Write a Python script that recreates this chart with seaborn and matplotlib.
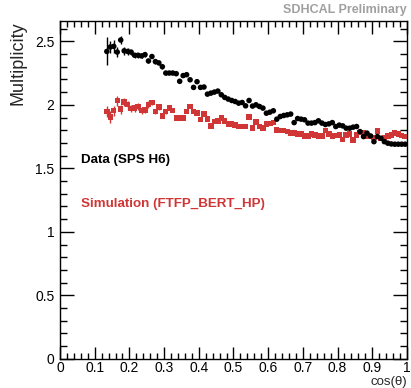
import numpy as np
import pandas as pd
import matplotlib
matplotlib.use("Agg")
import matplotlib.pyplot as plt
import seaborn as sns
from matplotlib.ticker import MultipleLocator

# bin centres in cos(theta)
cos_theta = [0.135, 0.145, 0.155, 0.165, 0.175, 0.185, 0.195, 0.205, 0.215, 0.225,
             0.235, 0.245, 0.255, 0.265, 0.275, 0.285, 0.295, 0.305, 0.315, 0.325,
             0.335, 0.345, 0.355, 0.365, 0.375, 0.385, 0.395, 0.405, 0.415, 0.425,
             0.435, 0.445, 0.455, 0.465, 0.475, 0.485, 0.495, 0.505, 0.515, 0.525,
             0.535, 0.545, 0.555, 0.565, 0.575, 0.585, 0.595, 0.605, 0.615, 0.625,
             0.635, 0.645, 0.655, 0.665, 0.675, 0.685, 0.695, 0.705, 0.715, 0.725,
             0.735, 0.745, 0.755, 0.765, 0.775, 0.785, 0.795, 0.805, 0.815, 0.825,
             0.835, 0.845, 0.855, 0.865, 0.875, 0.885, 0.895, 0.905, 0.915, 0.925,
             0.935, 0.945, 0.955, 0.965, 0.975, 0.985, 0.995]

data_mult = [2.42, 2.455, 2.46, 2.415, 2.51, 2.425, 2.42, 2.415, 2.39, 2.39,
             2.385, 2.395, 2.345, 2.38, 2.34, 2.33, 2.30, 2.25, 2.25, 2.25,
             2.245, 2.185, 2.23, 2.237, 2.197, 2.137, 2.182, 2.137, 2.14, 2.084,
             2.092, 2.10, 2.108, 2.079, 2.058, 2.045, 2.034, 2.026, 2.013, 2.018,
             1.992, 2.034, 1.99, 2.0, 1.987, 1.974, 1.934, 1.942, 1.953, 1.887,
             1.908, 1.916, 1.921, 1.927, 1.86, 1.892, 1.887, 1.882, 1.856, 1.856,
             1.86, 1.874, 1.856, 1.845, 1.85, 1.86, 1.829, 1.84, 1.834, 1.816,
             1.816, 1.824, 1.829, 1.789, 1.75, 1.777, 1.755, 1.71, 1.75, 1.737,
             1.71, 1.698, 1.692, 1.69, 1.69, 1.69, 1.69]
data_err = [0.11, 0.05, 0.05, 0.04, 0.03, 0.03, 0.025, 0.02, 0.02, 0.02,
            0.02, 0.02, 0.015, 0.015, 0.015, 0.015, 0.015, 0.015, 0.01, 0.01,
            0.01, 0.01, 0.01, 0.01, 0.01, 0.01, 0.01, 0.01, 0.01, 0.01,
            0.01, 0.01, 0.01, 0.01, 0.01, 0.01, 0.01, 0.01, 0.01, 0.01,
            0.01, 0.01, 0.01, 0.01, 0.01, 0.01, 0.01, 0.01, 0.01, 0.01,
            0.01, 0.01, 0.01, 0.01, 0.01, 0.01, 0.01, 0.01, 0.01, 0.01,
            0.01, 0.01, 0.01, 0.01, 0.01, 0.01, 0.01, 0.01, 0.01, 0.01,
            0.01, 0.01, 0.01, 0.01, 0.01, 0.01, 0.01, 0.01, 0.01, 0.01,
            0.01, 0.01, 0.01, 0.01, 0.01, 0.01, 0.01]

sim_mult = [1.947, 1.903, 1.953, 2.032, 1.966, 2.021, 2.0, 1.971, 1.975, 1.987,
            1.953, 1.96, 2.002, 2.018, 1.945, 1.982, 1.913, 1.947, 1.976, 1.955,
            1.895, 1.895, 1.895, 1.947, 1.987, 1.947, 1.934, 1.882, 1.927, 1.889,
            1.834, 1.868, 1.874, 1.895, 1.874, 1.85, 1.85, 1.84, 1.829, 1.829,
            1.829, 1.905, 1.816, 1.866, 1.829, 1.816, 1.85, 1.855, 1.86, 1.803,
            1.797, 1.797, 1.789, 1.777, 1.777, 1.769, 1.769, 1.755, 1.755, 1.771,
            1.763, 1.755, 1.755, 1.797, 1.771, 1.755, 1.758, 1.763, 1.729, 1.763,
            1.771, 1.724, 1.763, 1.782, 1.777, 1.755, 1.75, 1.745, 1.795, 1.737,
            1.745, 1.755, 1.763, 1.777, 1.771, 1.758, 1.75]
sim_err = [0.04, 0.05, 0.04, 0.04, 0.035, 0.03, 0.03, 0.03, 0.03, 0.025,
           0.025, 0.025, 0.025, 0.02, 0.02, 0.02, 0.02, 0.02, 0.02, 0.015,
           0.015, 0.015, 0.015, 0.015, 0.015, 0.015, 0.015, 0.01, 0.01, 0.01,
           0.01, 0.01, 0.01, 0.01, 0.01, 0.01, 0.01, 0.01, 0.01, 0.01,
           0.01, 0.01, 0.01, 0.01, 0.01, 0.01, 0.01, 0.01, 0.01, 0.01,
           0.01, 0.01, 0.01, 0.01, 0.01, 0.01, 0.01, 0.01, 0.01, 0.01,
           0.01, 0.01, 0.01, 0.01, 0.01, 0.01, 0.01, 0.01, 0.01, 0.01,
           0.01, 0.01, 0.01, 0.01, 0.01, 0.01, 0.01, 0.01, 0.01, 0.01,
           0.01, 0.01, 0.01, 0.01, 0.01, 0.01, 0.01]

RED = "#d03636"

df = pd.DataFrame({"cos": cos_theta, "data": data_mult, "sim": sim_mult})

sns.set_style("ticks")
plt.rcParams["font.family"] = ["Liberation Sans", "DejaVu Sans"]

fig = plt.figure(figsize=(4.11, 3.88), dpi=100)
ax = fig.add_axes([0.146, 0.075, 0.844, 0.871])

# error bars first, markers on top
ax.errorbar(cos_theta, sim_mult, yerr=sim_err, fmt="none", ecolor=RED, elinewidth=1, zorder=2)
ax.errorbar(cos_theta, data_mult, yerr=data_err, fmt="none", ecolor="black", elinewidth=1, zorder=3)
sns.scatterplot(data=df, x="cos", y="sim", ax=ax, marker="s", color=RED, s=15,
                edgecolor="none", linewidth=0, zorder=4)
sns.scatterplot(data=df, x="cos", y="data", ax=ax, marker="o", color="black", s=16,
                edgecolor="none", linewidth=0, zorder=5)

ax.set_xlim(0, 1)
ax.set_ylim(0, 2.66)
ax.set_xlabel("")
ax.set_ylabel("")

ax.xaxis.set_major_locator(MultipleLocator(0.1))
ax.xaxis.set_minor_locator(MultipleLocator(0.02))
ax.yaxis.set_major_locator(MultipleLocator(0.5))
ax.yaxis.set_minor_locator(MultipleLocator(0.1))
ax.xaxis.set_major_formatter(plt.FuncFormatter(lambda v, p: f"{v:g}"))
ax.yaxis.set_major_formatter(plt.FuncFormatter(lambda v, p: f"{v:g}"))

ax.tick_params(which="both", direction="in", top=True, right=True, width=1, labelsize=10, colors="black")
ax.tick_params(axis="x", which="major", length=9, pad=1.5)
ax.tick_params(axis="x", which="minor", length=4.5)
ax.tick_params(axis="y", which="major", length=10, pad=4)
ax.tick_params(axis="y", which="minor", length=5)
for sp in ax.spines.values():
    sp.set_visible(True)
    sp.set_linewidth(1)
    sp.set_color("black")

fig.text(0.045, 0.946, "Multiplicity", rotation=90, ha="center", va="top", fontsize=13)
fig.text(0.99, 0.0, "cos(θ)", ha="right", va="bottom", fontsize=9.5)
fig.text(0.99, 0.958, "SDHCAL Preliminary", ha="right", va="bottom", fontsize=9,
         fontweight="bold", color="#a0a0a0")
ax.text(0.06, 0.588, "Data (SPS H6)", transform=ax.transAxes, fontsize=9.6,
        fontweight="bold", color="black", va="center")
ax.text(0.06, 0.457, "Simulation (FTFP_BERT_HP)", transform=ax.transAxes, fontsize=9.6,
        fontweight="bold", color=RED, va="center")

fig.savefig("out.png", dpi=100)
